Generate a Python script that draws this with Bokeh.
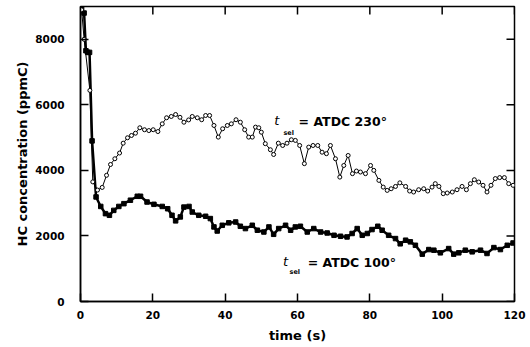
from bokeh.plotting import figure
from bokeh.models import Range1d, FixedTicker, Label
from bokeh.embed import file_html
from bokeh.resources import INLINE

# ---- data ----
t_230 = [0.3, 1.0, 2.6, 3.4, 4.7, 6.0, 7.2, 8.3, 9.5, 10.8,
         11.8, 13.0, 14.1, 15.2, 16.4, 17.7, 18.9, 20.1, 21.4, 22.6,
         23.8, 25.1, 26.3, 27.5, 28.6, 29.9, 30.9, 32.3, 33.5, 34.6,
         35.7, 36.9, 38.1, 39.3, 40.6, 41.7, 43.0, 44.2, 45.4, 46.5,
         47.5, 48.4, 49.3, 50.0, 51.1, 52.5, 53.4, 54.7, 55.9, 57.1,
         58.3, 59.4, 60.6, 61.9, 63.1, 64.3, 65.6, 66.8, 68.0, 69.1,
         70.5, 71.7, 72.8, 74.0, 75.2, 76.3, 77.4, 78.8, 80.2, 81.1,
         82.5, 83.7, 84.8, 85.9, 87.1, 88.3, 89.9, 91.0, 92.1, 93.5,
         94.9, 96.0, 97.2, 98.1, 99.1, 100.3, 101.4, 102.8, 104.1, 105.5,
         106.7, 107.8, 108.9, 110.1, 111.3, 112.4, 113.5, 114.7, 115.9, 117.2,
         118.4, 119.6]
hc_230 = [8900, 8000, 6440, 3650, 3400, 3480, 3850, 4180, 4355, 4530,
          4830, 4995, 5065, 5135, 5300, 5240, 5215, 5240, 5185, 5420,
          5605, 5645, 5705, 5620, 5470, 5540, 5645, 5605, 5545, 5675,
          5675, 5370, 5015, 5270, 5370, 5420, 5545, 5470, 5240, 5015,
          5015, 5320, 5300, 5165, 4815, 4630, 4485, 4830, 4760, 4830,
          4935, 4915, 4760, 4205, 4710, 4760, 4760, 4555, 4510, 4760,
          4355, 3795, 4150, 4455, 3900, 3980, 3950, 3900, 4150, 4000,
          3695, 3490, 3390, 3440, 3510, 3620, 3510, 3370, 3340, 3410,
          3440, 3370, 3490, 3595, 3510, 3290, 3310, 3340, 3410, 3510,
          3410, 3595, 3715, 3645, 3545, 3340, 3545, 3750, 3780, 3780,
          3595, 3545]

t_100 = [0.3, 1.0, 1.5, 2.0, 2.5, 3.2, 4.3, 5.6, 6.9, 8.0,
         9.2, 10.6, 12.0, 13.8, 15.7, 16.6, 18.4, 20.3, 22.6, 24.1,
         25.3, 26.3, 27.6, 28.6, 30.0, 30.9, 32.7, 34.6, 35.9, 36.9,
         37.8, 39.2, 41.0, 42.9, 44.2, 45.6, 47.5, 48.9, 50.7, 52.1,
         53.4, 54.8, 56.7, 58.1, 59.4, 60.8, 62.7, 64.5, 66.4, 68.2,
         70.1, 71.9, 73.7, 75.1, 76.5, 77.9, 79.3, 80.6, 82.2, 83.4,
         85.2, 87.1, 88.4, 89.9, 91.2, 92.6, 94.5, 96.3, 97.7, 99.5,
         101.8, 103.2, 104.6, 106.4, 108.3, 110.6, 112.4, 114.3, 116.1, 118.0,
         119.6]
hc_100 = [8950, 8800, 7650, 7600, 7600, 4900, 3190, 2900, 2680, 2630,
          2780, 2900, 2985, 3090, 3210, 3210, 3035, 2965, 2900, 2830,
          2630, 2460, 2580, 2880, 2900, 2730, 2630, 2600, 2530, 2275,
          2150, 2325, 2400, 2425, 2295, 2225, 2325, 2175, 2120, 2275,
          2050, 2225, 2325, 2175, 2275, 2295, 2120, 2225, 2120, 2090,
          2020, 1990, 1970, 2075, 2225, 2020, 2075, 2195, 2295, 2175,
          2020, 1920, 1760, 1870, 1820, 1715, 1445, 1585, 1565, 1485,
          1615, 1445, 1485, 1565, 1515, 1565, 1465, 1645, 1585, 1715,
          1785]

x_ticks = [0, 20, 40, 60, 80, 100, 120]
y_ticks = [0, 2000, 4000, 6000, 8000]

X_MAX = 120
Y_MAX = 9000
FONT = "DejaVu Sans"

p = figure(width=530, height=347, output_backend="svg", toolbar_location=None,
           x_range=Range1d(0, X_MAX), y_range=Range1d(0, Y_MAX),
           min_border_left=80, min_border_right=16, min_border_top=6,
           min_border_bottom=46, background_fill_color="white",
           border_fill_color="white")
p.grid.visible = False
p.outline_line_color = "black"
p.outline_line_width = 1.5

for ax in (p.xaxis[0], p.yaxis[0]):
    ax.major_tick_in = 8
    ax.major_tick_out = 0
    ax.minor_tick_in = 0
    ax.minor_tick_out = 0
    ax.axis_line_width = 1.5
    ax.major_tick_line_width = 1.5
    ax.major_label_text_font = FONT
    ax.major_label_text_font_style = "bold"
    ax.major_label_text_font_size = "10.5px"
    ax.major_label_text_color = "black"
    ax.axis_label_text_font = FONT
    ax.axis_label_text_font_style = "bold"
    ax.axis_label_text_font_size = "13px"
    ax.axis_label_text_color = "black"

p.xaxis[0].ticker = FixedTicker(ticks=x_ticks)
p.yaxis[0].ticker = FixedTicker(ticks=y_ticks)
p.xaxis[0].axis_label = "time (s)"
p.yaxis[0].axis_label = "HC concentration (ppmC)"
p.xaxis[0].major_label_standoff = 9
p.xaxis[0].axis_label_standoff = 6
p.yaxis[0].major_label_standoff = 16
p.yaxis[0].axis_label_standoff = 2

# inward ticks on the top and right frame edges (8 px long)
tick_len_y = 8 * Y_MAX / 295.0
tick_len_x = 8 * X_MAX / 434.0
p.segment(x0=x_ticks, x1=x_ticks, y0=[Y_MAX] * len(x_ticks),
          y1=[Y_MAX - tick_len_y] * len(x_ticks), line_color="black",
          line_width=1.5)
p.segment(x0=[X_MAX] * len(y_ticks), x1=[X_MAX - tick_len_x] * len(y_ticks),
          y0=y_ticks, y1=y_ticks, line_color="black", line_width=1.5)

# series
p.line(t_100, hc_100, line_color="black", line_width=2.5)
p.scatter(t_100, hc_100, marker="square", size=4.5, fill_color="black",
          line_color="black")
p.line(t_230, hc_230, line_color="black", line_width=1)
p.scatter(t_230, hc_230, marker="circle", size=4, fill_color="white",
          line_color="black", line_width=1)

# annotations
def add_label(x, y, text, size, style):
    p.add_layout(Label(x=x, y=y, text=text, text_font=FONT,
                       text_font_size=size, text_font_style=style,
                       text_color="black", text_baseline="middle",
                       text_align="left"))

add_label(53.6, 5522, "t", "13px", "italic")
add_label(56.1, 5153, "sel", "6.5px", "bold")
add_label(60.3, 5492, "= ATDC 230°", "12.5px", "bold")

add_label(56.0, 1230, "t", "13px", "italic")
add_label(57.8, 895, "sel", "6.5px", "bold")
add_label(62.8, 1200, "= ATDC 100°", "12.5px", "bold")

open("out.html", "w").write(file_html(p, INLINE))
